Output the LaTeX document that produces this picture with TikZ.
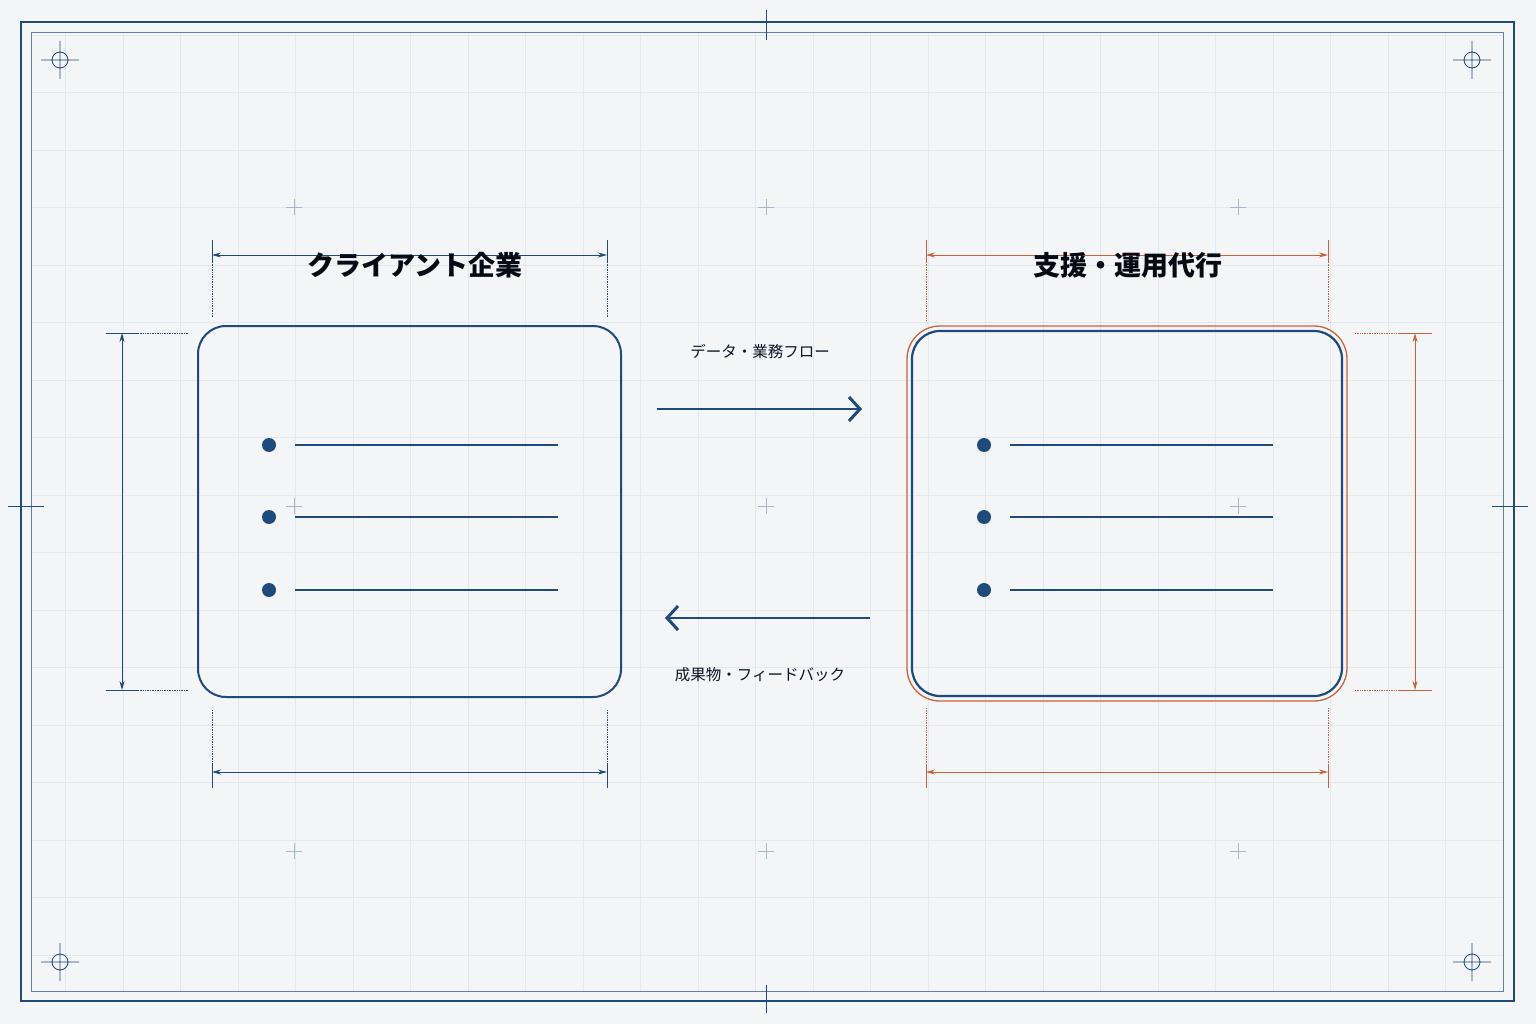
\documentclass[tikz,border=0pt]{standalone}
\usepackage{fontspec}
\setmainfont{Noto Sans CJK JP}
\usetikzlibrary{arrows.meta}
\definecolor{bp}{HTML}{1F4A7C}
\definecolor{og}{HTML}{C8643A}
\definecolor{bg}{HTML}{F3F5F7}
\definecolor{gr}{HTML}{E2E8EE}
\begin{document}
\begin{tikzpicture}[x=1pt,y=-1pt,
  dim/.style={line width=0.9pt,{Stealth[length=9pt,width=5pt]}-{Stealth[length=9pt,width=5pt]}},
  ext/.style={line width=0.8pt},
  extd/.style={line width=0.7pt,densely dotted},
  bul/.style={circle,fill=bp,inner sep=0pt,minimum size=14pt},
  itl/.style={bp,line width=1.3pt},
  ttl/.style={font=\bfseries\fontsize{27}{27}\selectfont,text=black!85!bp},
  lbl/.style={font=\fontsize{15.5}{15.5}\selectfont,text=black!70!bp},
  flow/.style={bp,line width=2.6pt,-{Straight Barb[length=11pt,width=24pt,line width=3pt]}}]
\useasboundingbox (0,0) rectangle (1536,1024);
\fill[bg] (0,0) rectangle (1536,1024);
% grid
\foreach \i in {1,...,25} {\draw[gr,line width=0.5pt] (8+57.5*\i,32) -- (8+57.5*\i,991);}
\foreach \j in {0,...,16} {\draw[gr,line width=0.5pt] (31,35+57.5*\j) -- (1503,35+57.5*\j);}
% major crosses
\foreach \x in {294,766,1238} \foreach \y in {207,506,851} {\draw[bp!40,line width=0.6pt] (\x-8,\y)--(\x+8,\y) (\x,\y-8)--(\x,\y+8);}
% frames
\draw[bp,line width=2pt] (21,22) rectangle (1514,1001);
\draw[bp!70,line width=0.7pt] (31,32) rectangle (1503,991);
% edge ticks
\draw[bp,line width=0.8pt] (766,10)--(766,40) (766,985)--(766,1013) (8,506)--(44,506) (1492,506)--(1528,506);
% targets
\foreach \x/\y in {60/60,1472/60,60/962,1472/962} {
  \draw[bp,line width=0.8pt] (\x,\y) circle (8) (\x-19,\y)--(\x+19,\y) (\x,\y-19)--(\x,\y+19);}
% left box
\node[draw=bp,line width=2pt,rounded corners=28pt,minimum width=423pt,minimum height=371pt,inner sep=0pt] (L) at (409.5,511.5) {};
\foreach \y [count=\k] in {445,517,590} {
  \node[bul] (lb\k) at (269,\y) {};
  \coordinate (la\k) at (295,\y); \coordinate (lz\k) at (558,\y);
  \draw[itl] (la\k) -- (lz\k);}
% right box
\node[draw=og,line width=1.3pt,rounded corners=33pt,minimum width=440pt,minimum height=375pt,inner sep=0pt] (RO) at (1127,513.5) {};
\node[draw=bp,line width=2.2pt,rounded corners=28pt,minimum width=430pt,minimum height=365pt,inner sep=0pt] (R) at (1127,513.5) {};
\foreach \y [count=\k] in {445,517,590} {
  \node[bul] (rb\k) at (984,\y) {};
  \coordinate (ra\k) at (1010,\y); \coordinate (rz\k) at (1273,\y);
  \draw[itl] (ra\k) -- (rz\k);}
% left dims
\begin{scope}[bp]
\draw[ext] (212,240)--(212,262) (607,240)--(607,262);
\draw[extd] (212,262)--(212,318) (607,262)--(607,318);
\draw[dim] (212,255)--(607,255);
\draw[extd] (212,710)--(212,765) (607,710)--(607,765);
\draw[ext] (212,765)--(212,788) (607,765)--(607,788);
\draw[dim] (212,772)--(607,772);
\draw[ext] (106,333)--(138,333) (106,690)--(138,690);
\draw[extd] (138,333)--(188,333) (138,690)--(188,690);
\draw[dim] (122,333)--(122,690);
\end{scope}
\begin{scope}[og]
\draw[ext] (926,240)--(926,262) (1328,240)--(1328,262);
\draw[extd] (926,262)--(926,320) (1328,262)--(1328,320);
\draw[dim] (926,255)--(1328,255);
\draw[extd] (926,708)--(926,765) (1328,708)--(1328,765);
\draw[ext] (926,765)--(926,788) (1328,765)--(1328,788);
\draw[dim] (926,772)--(1328,772);
\draw[extd] (1355,333)--(1400,333) (1355,690)--(1400,690);
\draw[ext] (1400,333)--(1432,333) (1400,690)--(1432,690);
\draw[dim] (1415,333)--(1415,690);
\end{scope}
% titles
\node[ttl] (tl) at (415,265) {クライアント企業};
\node[ttl] (tr) at (1128,265) {支援・運用代行};
% flows
\coordinate (f1a) at (657,409); \coordinate (f1b) at (862,409);
\draw[flow] (f1a) -- (f1b);
\node[lbl] (fl1) at (760,352) {データ・業務フロー};
\coordinate (f2a) at (870,618); \coordinate (f2b) at (665,618);
\draw[flow] (f2a) -- (f2b);
\node[lbl] (fl2) at (760,675) {成果物・フィードバック};
\end{tikzpicture}
\end{document}
